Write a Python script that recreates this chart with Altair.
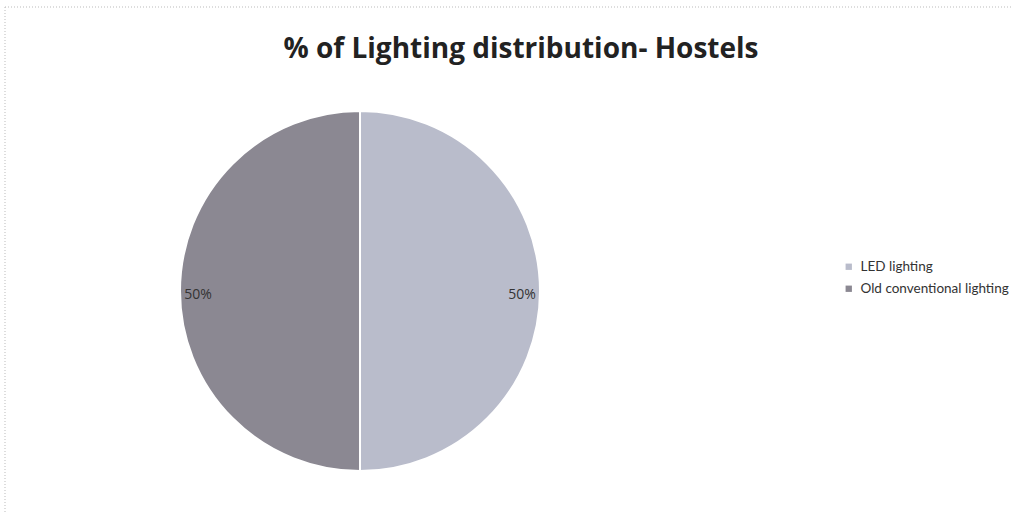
import altair as alt
import pandas as pd

categories = ["LED lighting", "Old conventional lighting"]
shares = [50, 50]
labels = ["50%", "50%"]
colors = ["#b9bccb", "#8b8892"]
title_text = "% of Lighting distribution- Hostels"

df = pd.DataFrame({"cat": categories, "share": shares, "label": labels, "order": [0, 1]})

W, H = 1012, 514
CX, CY, R = 360, 291, 180

base = alt.Chart(df).encode(
    theta=alt.Theta("share:Q", stack=True),
    order=alt.Order("order:Q"),
)

pie = base.mark_arc(outerRadius=R, stroke="white", strokeWidth=2).encode(
    x=alt.value(CX), y=alt.value(CY),
    color=alt.Color(
        "cat:N",
        scale=alt.Scale(domain=categories, range=colors),
        legend=alt.Legend(
            title=None, orient="none", legendX=842, legendY=260,
            symbolType="square", symbolSize=40, symbolStrokeWidth=0,
            labelFontSize=13.5, labelFont="Lato", labelColor="#333333",
            rowPadding=7, labelLimit=300, labelOffset=5,
        ),
    ),
)

txt = base.mark_text(radius=R * 0.9, fontSize=14, font="Open Sans", color="#333333").encode(
    x=alt.value(CX), y=alt.value(CY + 4), text="label:N"
)

title_df = pd.DataFrame({"t": [title_text]})
title = alt.Chart(title_df).mark_text(
    fontSize=28, fontWeight="bold", font="Open Sans", color="#222222",
    align="center", baseline="middle",
).encode(x=alt.value(521), y=alt.value(50), text="t:N")

top_line = alt.Chart(title_df).mark_rule(
    stroke="#bbbbbb", strokeWidth=1, strokeDash=[1, 2]
).encode(x=alt.value(5), x2=alt.value(1012), y=alt.value(7))

left_line = alt.Chart(title_df).mark_rule(
    stroke="#bbbbbb", strokeWidth=1, strokeDash=[1, 2]
).encode(x=alt.value(5), y=alt.value(7), y2=alt.value(512))

chart = alt.layer(top_line, left_line, pie, txt, title).properties(
    width=W, height=H, padding=0, background="white",
    autosize=alt.AutoSizeParams(type="none"),
).configure_view(stroke=None)

chart.save("out.html", embed_options={"renderer": "svg", "actions": False})
